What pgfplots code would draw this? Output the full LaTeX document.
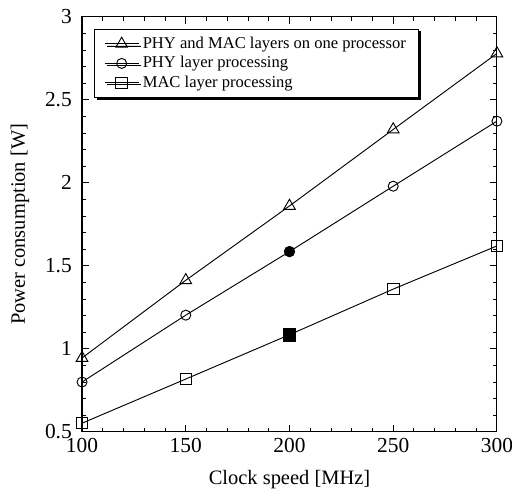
\documentclass[border=0pt]{standalone}
\usepackage{fontspec}
\setmainfont{Liberation Serif}
\usepackage{pgfplots}
\pgfplotsset{compat=1.18}
\usetikzlibrary{shadows}
\begin{document}
\begin{tikzpicture}
\begin{axis}[
  name=ax,
  width=223pt, height=223pt, scale only axis,
  xmin=100, xmax=300, ymin=0.5, ymax=3,
  xtick={100,150,200,250,300},
  ytick={0.5,1,1.5,2,2.5,3},
  minor x tick num=4, minor y tick num=4,
  tick align=inside, tick pos=both,
  xticklabel pos=bottom, yticklabel pos=left,
  major tick length=3.8pt, minor tick length=2pt,
  tick style={black, line width=0.5pt},
  axis line style={line width=0.6pt},
  /pgf/number format/assume math mode=true,
  ticklabel style={font=\fontsize{11.5}{13}\selectfont},
  yticklabel style={xshift=-2pt},
  label style={font=\fontsize{11}{13}\selectfont},
  xlabel={Clock speed [MHz]},
  ylabel={Power consumption [W]},
  xlabel style={at={(axis description cs:0.5,-0.1157)}, anchor=center},
  ylabel style={at={(axis description cs:-0.1494,0.5)}, anchor=center},
  legend cell align=left,
  legend style={at={(axis cs:106,2.928)}, anchor=north west,
    draw=black, line width=0.5pt, fill=white,
    font=\fontsize{8.9}{9.6}\selectfont,
    inner xsep=5pt, inner ysep=2pt, row sep=-1.2pt,
    drop shadow={shadow xshift=1.1pt, shadow yshift=-1.1pt, opacity=1, fill=black}},
  legend image code/.code={
    \draw[#1, mark repeat=2, mark phase=2] plot coordinates {(0.1cm,0cm) (0.42cm,0cm) (0.74cm,0cm)};},
]
\addplot[black, line width=0.5pt, mark=triangle, mark size=3.6pt, mark options={fill=white, solid}] coordinates {
  (100,0.945) (150,1.413) (200,1.861) (250,2.322) (300,2.78)};
\addlegendentry{PHY and MAC layers on one processor}
\addplot[black, line width=0.5pt, mark=o, mark size=2.7pt, mark options={fill=white}] coordinates {
  (100,0.80) (150,1.203) (200,1.586) (250,1.98) (300,2.372)};
\addlegendentry{PHY layer processing}
\addplot[black, line width=0.5pt, mark=square, mark size=3.1pt, mark options={fill=white}] coordinates {
  (100,0.552) (150,0.818) (200,1.085) (250,1.36) (300,1.62)};
\addlegendentry{MAC layer processing}
\addplot[black, only marks, mark=*, mark size=2.8pt, mark options={fill=black}, forget plot] coordinates {(200,1.586)};
\addplot[black, only marks, mark=square*, mark size=3.4pt, mark options={fill=black}, forget plot] coordinates {(200,1.085)};
\end{axis}
\pgfresetboundingbox
\path ([shift={(-44.1pt,-33.3pt)}]ax.south west) rectangle ([shift={(8.1pt,9.1pt)}]ax.north east);
\end{tikzpicture}
\end{document}
